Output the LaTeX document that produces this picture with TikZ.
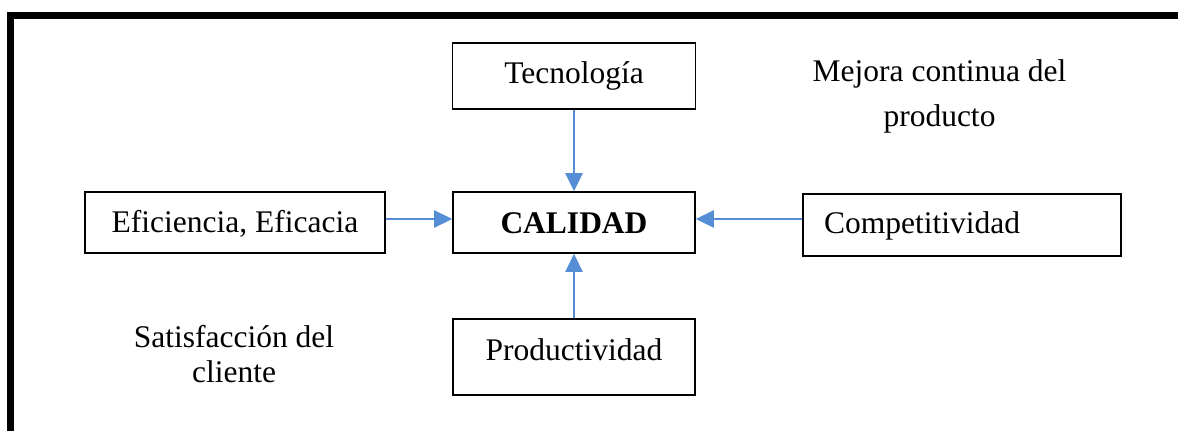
\documentclass[tikz,border=0pt]{standalone}
\usepackage{fontspec}
\setmainfont{Liberation Serif}
\usetikzlibrary{arrows.meta}
\definecolor{arrblue}{RGB}{86,142,213}
\begin{document}
\begin{tikzpicture}[x=1pt,y=-1pt,
  every node/.style={font=\fontsize{31.5}{36}\selectfont},
  box/.style={draw=black,line width=1.6pt,rectangle,inner sep=0pt},
  arr/.style={draw=arrblue,line width=2.6pt,-{Triangle[length=18pt,width=17pt]}},
  free/.style={align=center,inner sep=0pt,anchor=base}]
\useasboundingbox (0,0) rectangle (1178,431);
% frame
\draw[line width=6.7pt,line join=miter] (10.5,440) -- (10.5,15.5) -- (1190,15.5);
% boxes
\node[box,minimum width=243pt,text height=40pt,text depth=26pt] (tec) at (574,76) {Tecnología};
\node[box,minimum width=242pt,text height=41pt,text depth=20pt,font=\fontsize{31.5}{36}\selectfont\bfseries] (cal) at (574,222.5) {CALIDAD};
\node[box,minimum width=300pt,text height=40pt,text depth=21pt] (efi) at (235,222.5) {Eficiencia, Eficacia};
\node[box,text width=276pt,inner xsep=21pt,align=left,text height=39pt,text depth=23pt] (com) at (962,225) {Competitividad};
\node[box,minimum width=242pt,text height=41pt,text depth=35pt] (pro) at (574,357) {Productividad};
% free texts (base anchor = last line)
\node[free,font=\fontsize{31.5}{45}\selectfont] (mej) at (939.5,126) {Mejora continua del\\producto};
\node[free,font=\fontsize{31.5}{35}\selectfont] (sat) at (234,382.7) {Satisfacción del\\cliente};
% arrows
\draw[arr] (tec) -- (cal);
\draw[arr] (pro) -- (cal);
\draw[arr] ([yshift=3.5pt]efi.east) -- ([yshift=3.5pt]cal.west);
\coordinate (cy) at ([yshift=3.5pt]cal.east);
\draw[arr] (com.west |- cy) -- (cy);
\end{tikzpicture}
\end{document}
